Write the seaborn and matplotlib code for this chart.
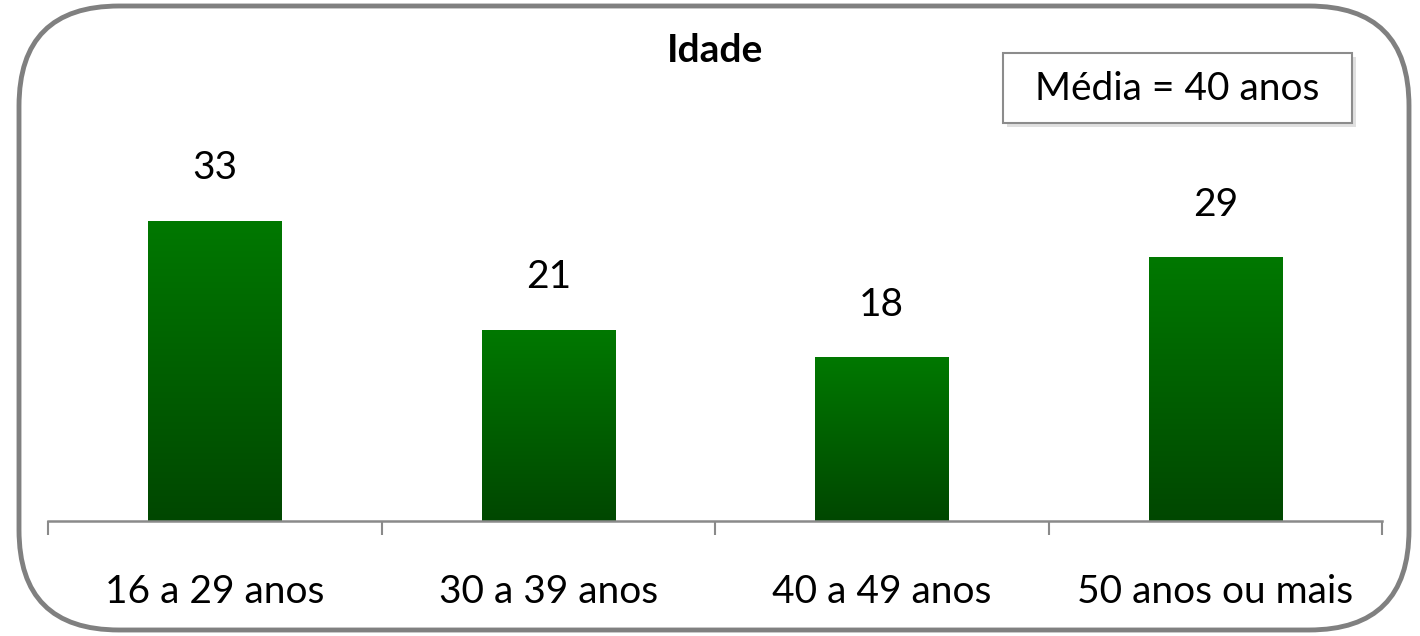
import numpy as np
import matplotlib
matplotlib.use("Agg")
import matplotlib.pyplot as plt
import matplotlib.patches as mpatches
from matplotlib.transforms import IdentityTransform
from matplotlib.colors import LinearSegmentedColormap
import seaborn as sns

categories = ["16 a 29 anos", "30 a 39 anos", "40 a 49 anos", "50 anos ou mais"]
values = [33, 21, 18, 29]
title = "Idade"
note = "Média = 40 anos"

sns.set_theme(style="white")
plt.rcParams["font.family"] = ["Lato", "DejaVu Sans"]

W, H = 1420, 636
fig = plt.figure(figsize=(W / 100, H / 100), dpi=100)
fig.patch.set_facecolor("white")

ax = fig.add_axes([48 / W, 1 - 521 / H, 1334 / W, 481 / H])
ax.set_facecolor("none")
sns.barplot(x=categories, y=values, color="#006400", width=0.4, ax=ax,
            saturation=1)

# gradient fill for bars
grad = np.linspace(0, 1, 256).reshape(-1, 1)
cmap = LinearSegmentedColormap.from_list("g", ["#004700", "#007800"])
for p in list(ax.patches):
    x0, y0 = p.get_x(), p.get_y()
    w, h = p.get_width(), p.get_height()
    sh = mpatches.Shadow(p, 3, -3, alpha=0.18)
    sh.set_zorder(0.5)
    ax.add_patch(sh)
    p.set_facecolor("none")
    p.set_edgecolor("none")
    im = ax.imshow(grad, extent=[x0, x0 + w, y0, y0 + h], origin="lower",
                   cmap=cmap, aspect="auto", zorder=2)
    im.set_clip_path(p)
ax.set_xlim(-0.5, len(categories) - 0.5)
ax.set_ylim(0, 52.9)

for i, v in enumerate(values):
    ax.text(i, v + 5.8, f"{v}", ha="center", va="center", fontsize=28,
            color="black")

for s in ["top", "right", "left"]:
    ax.spines[s].set_visible(False)
ax.spines["bottom"].set_color("#8a8a8a")
ax.spines["bottom"].set_linewidth(1.8)
ax.set_yticks([])
ax.set_xticks(range(len(categories)))
ax.set_xticklabels(categories, fontsize=28, color="black")
ax.set_xticks(np.arange(-0.5, len(categories), 1.0), minor=True)
ax.tick_params(axis="x", which="major", length=0, pad=38)
ax.tick_params(axis="x", which="minor", length=10, width=1.5,
               color="#8a8a8a", direction="out", bottom=True)
ax.set_xlabel("")
ax.set_ylabel("")

fig.text(715 / W, 1 - 51 / H, title, ha="center", va="center",
         fontsize=28, fontweight="bold", color="black")

# note box
bx0, by0, bw, bh = 1003, 53, 349, 70
shadow = mpatches.Rectangle((bx0 + 4, H - by0 - bh - 4), bw, bh,
                            transform=IdentityTransform(),
                            facecolor="#000000", alpha=0.12,
                            edgecolor="none", zorder=1)
fig.patches.append(shadow)
box = mpatches.Rectangle((bx0, H - by0 - bh), bw, bh,
                         transform=IdentityTransform(),
                         facecolor="white", edgecolor="#8c8c8c",
                         linewidth=1.5, zorder=2)
fig.patches.append(box)
fig.text((bx0 + bw / 2) / W, 1 - 89 / H, note, ha="center", va="center",
         fontsize=28, color="black", zorder=3)

# rounded outer frame
frame = mpatches.FancyBboxPatch((19, 6), 1390, 624,
                                boxstyle="round,pad=0,rounding_size=100",
                                transform=IdentityTransform(),
                                facecolor="none", edgecolor="#808080",
                                linewidth=3.5, zorder=0)
fig.patches.append(frame)

fig.savefig("out.png", dpi=100)
